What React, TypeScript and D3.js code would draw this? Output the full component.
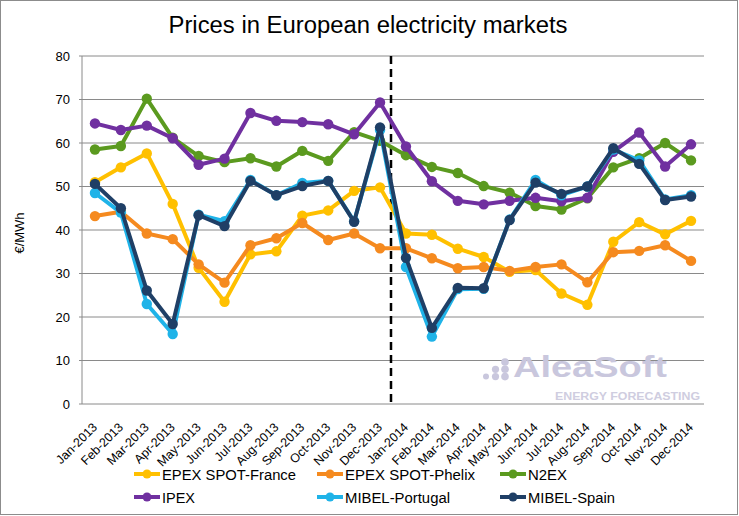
import React from "react";
import * as d3 from "d3";

const months = [
  "Jan-2013","Feb-2013","Mar-2013","Apr-2013","May-2013","Jun-2013","Jul-2013","Aug-2013","Sep-2013","Oct-2013","Nov-2013","Dec-2013",
  "Jan-2014","Feb-2014","Mar-2014","Apr-2014","May-2014","Jun-2014","Jul-2014","Aug-2014","Sep-2014","Oct-2014","Nov-2014","Dec-2014",
];
const epexFrance = [51, 54.4, 57.6, 46, 31.3, 23.5, 34.4, 35.1, 43.3, 44.5, 49, 49.8, 39.2, 38.9, 35.7, 33.8, 30.4, 30.8, 25.4, 22.8, 37.3, 41.8, 39, 42.1];
const epexPhelix = [43.2, 44.2, 39.2, 37.9, 32.1, 27.9, 36.5, 38.1, 41.6, 37.7, 39.2, 35.8, 35.8, 33.5, 31.2, 31.5, 30.6, 31.5, 32.1, 28, 34.9, 35.2, 36.5, 32.9];
const n2ex = [58.5, 59.3, 70.2, 61.2, 57, 55.6, 56.5, 54.6, 58.2, 55.9, 62.5, 60.5, 57.2, 54.5, 53.1, 50.1, 48.6, 45.5, 44.7, 47.3, 54.4, 56.5, 60, 56];
const ipex = [64.5, 63, 64, 61.1, 55, 56.4, 66.9, 65.1, 64.8, 64.3, 62, 69.3, 59.2, 51.2, 46.7, 45.9, 46.7, 47.4, 46.6, 47.4, 58, 62.4, 54.6, 59.7];
const mibelPortugal = [48.5, 44, 23, 16.1, 43.5, 42, 51.5, 48, 50.8, 51.3, 42, 63, 31.5, 15.5, 26.4, 26.5, 42.4, 51.5, 48, 50, 58.5, 56, 47, 48];
const mibelSpain = [50.6, 45, 26.1, 18.4, 43.4, 40.9, 51.3, 48, 50.1, 51.3, 41.9, 63.6, 33.6, 17.5, 26.7, 26.6, 42.3, 50.9, 48.3, 50, 58.8, 55.2, 46.9, 47.7];
const yTicks = [0, 10, 20, 30, 40, 50, 60, 70, 80];

const seriesNames = ["EPEX SPOT-France", "EPEX SPOT-Phelix", "N2EX", "IPEX", "MIBEL-Portugal", "MIBEL-Spain"];
const seriesValues = [epexFrance, epexPhelix, n2ex, ipex, mibelPortugal, mibelSpain];
const seriesColors = ["#FFC000", "#F58A1F", "#5B9A1F", "#7030A0", "#1FB3E8", "#1F3F66"];

export default function App() {
  const W = 739, H = 516;
  const left = 82, right = 704, top = 56, bottom = 404;
  const x = d3.scaleBand<string>().domain(months).range([left, right]);
  const y = d3.scaleLinear().domain([0, 80]).range([bottom, top]);
  const cx = (m: string) => (x(m) as number) + x.bandwidth() / 2;
  const line = d3.line<number>().x((_, i) => cx(months[i])).y((v) => y(v));
  const font = "'Liberation Sans', Arial, sans-serif";
  const dashX = (x("Jan-2014") as number) - 2;

  const legendCols = [134, 317, 500];
  const legendRows = [474, 497];
  const legendTextW = [134, 130, 39, 33, 105, 87];
  const legendItems = seriesNames.map((n, i) => ({
    name: n,
    color: seriesColors[i],
    lx: legendCols[i % 3],
    ly: legendRows[i < 3 ? 0 : 1],
    tw: legendTextW[i],
  }));

  const dots = [[0, 2, 3], [1, 2, 3.6], [2, 2, 3.8], [1, 1, 3.6], [2, 1, 3.8], [2, 0, 3.8]];
  const wm = "#c9c7dd";

  return (
    <svg width={W} height={H} style={{ position: "absolute", left: 0, top: 0 }} fontFamily={font}>
      <rect x={0.5} y={0.5} width={W - 2} height={H - 2} fill="#fff" stroke="#8c8c8c" strokeWidth={1} />
      <text x={368} y={33} textAnchor="middle" fontSize={23.5} fill="#000" textLength={399} lengthAdjust="spacingAndGlyphs">Prices in European electricity markets</text>
      {yTicks.map((t) => (
        <g key={t}>
          <line x1={left - 3} x2={right} y1={y(t)} y2={y(t)} stroke="#8a8a8a" strokeWidth={1} />
          <text x={left - 12} y={y(t) + 4.5} textAnchor="end" fontSize={13} fill="#000">{t}</text>
        </g>
      ))}
      <line x1={left} x2={left} y1={top} y2={bottom} stroke="#8a8a8a" strokeWidth={1} />
      <text transform={`translate(24,233) rotate(-90)`} textAnchor="middle" fontSize={13} fill="#000">€/MWh</text>
      {months.map((m) => (
        <text key={m} transform={`translate(${cx(m) + 3},${bottom + 24}) rotate(-45)`} textAnchor="end" fontSize={12.5} fill="#000">{m}</text>
      ))}
      <g>
        {dots.map(([a, b, r], i) => (
          <circle key={i} cx={486 + a * 9.5} cy={362 + b * 7.3} r={r} fill={wm} />
        ))}
        <text x={513} y={377} fontSize={30} fontWeight="bold" fill={wm} textLength={154} lengthAdjust="spacingAndGlyphs">AleaSoft</text>
        <text x={555} y={400} fontSize={11} fontWeight="bold" fill="#cfcde0" textLength={145} lengthAdjust="spacingAndGlyphs">ENERGY FORECASTING</text>
      </g>
      <line x1={dashX} x2={dashX} y1={top} y2={bottom} stroke="#000" strokeWidth={2.5} strokeDasharray="8,5" />
      {seriesValues.map((vals, si) => (
        <g key={si}>
          <path d={line(vals) || ""} fill="none" stroke={seriesColors[si]} strokeWidth={4} strokeLinejoin="round" />
          {vals.map((v, i) => (
            <circle key={i} cx={cx(months[i])} cy={y(v)} r={5.2} fill={seriesColors[si]} />
          ))}
        </g>
      ))}
      {legendItems.map((it) => (
        <g key={it.name}>
          <line x1={it.lx} x2={it.lx + 26} y1={it.ly} y2={it.ly} stroke={it.color} strokeWidth={4} />
          <circle cx={it.lx + 13} cy={it.ly} r={4.5} fill={it.color} />
          <text x={it.lx + 28} y={it.ly + 6} fontSize={15.5} fill="#000" textLength={it.tw} lengthAdjust="spacingAndGlyphs">{it.name}</text>
        </g>
      ))}
    </svg>
  );
}
